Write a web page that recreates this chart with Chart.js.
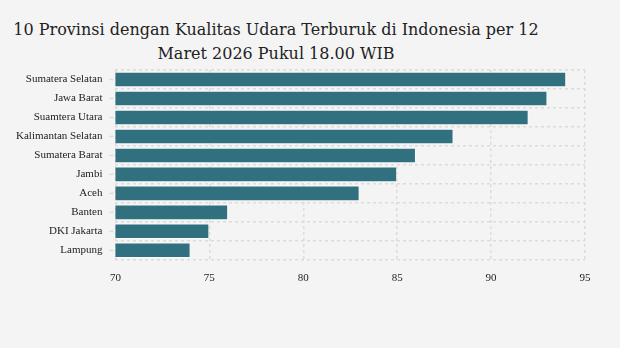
<!DOCTYPE html>
<html>
<head>
<meta charset="utf-8">
<script src="https://cdn.jsdelivr.net/npm/chart.js@4/dist/chart.umd.min.js"></script>
<style>
  html, body { margin: 0; padding: 0; background: #f4f4f4; }
  #wrap { position: relative; width: 620px; height: 348px; }
  #judul {
    position: absolute; left: 0; top: 18px; width: 552px; margin: 0;
    font-family: "DejaVu Serif", serif; font-weight: normal; font-size: 16px;
    line-height: 24px; color: #222; text-align: center;
  }
  canvas { position: absolute; left: 0; top: 0; }
</style>
</head>
<body>
<div id="wrap">
  <h1 id="judul">10 Provinsi dengan Kualitas Udara Terburuk di Indonesia per 12<br>Maret 2026 Pukul 18.00 WIB</h1>
  <canvas id="myChart" width="620" height="348"></canvas>
</div>
<script>
// Data kualitas udara per provinsi
const provinsi = ['Sumatera Selatan', 'Jawa Barat', 'Suamtera Utara', 'Kalimantan Selatan', 'Sumatera Barat',
  'Jambi', 'Aceh', 'Banten', 'DKI Jakarta', 'Lampung'];
const nilai = [94, 93, 92, 88, 86, 85, 83, 76, 75, 74];
const tickX = [70, 75, 80, 85, 90, 95];

const fontLabel = { family: 'Liberation Serif', size: 11 };

// Garis kecil di samping label kategori
const tandaLabel = {
  id: 'tandaLabel',
  afterDraw(chart) {
    const y = chart.scales.y;
    const ctx = chart.ctx;
    ctx.save();
    ctx.strokeStyle = '#dcdcdc';
    ctx.lineWidth = 1.5;
    y.ticks.forEach((t, i) => {
      const py = y.getPixelForTick(i);
      ctx.beginPath();
      ctx.moveTo(y.right - 6, py);
      ctx.lineTo(y.right - 2, py);
      ctx.stroke();
    });
    ctx.restore();
  }
};

const ctx = document.getElementById('myChart').getContext('2d');
const myChart = new Chart(ctx, {
  type: 'bar',
  data: {
    labels: provinsi,
    datasets: [{
      data: nilai,
      backgroundColor: '#30707f',
      borderColor: 'rgba(255,255,255,0.45)',
      borderWidth: 1,
      barPercentage: 0.82,
      categoryPercentage: 1
    }]
  },
  options: {
    indexAxis: 'y',
    responsive: false,
    animation: false,
    layout: { padding: { top: 70, right: 35, bottom: 51, left: 3 } },
    plugins: { legend: { display: false }, tooltip: { enabled: false } },
    scales: {
      x: {
        min: 70, max: 95,
        afterBuildTicks: (s) => { s.ticks = tickX.map(v => ({ value: v })); },
        grid: { color: '#dcdcdc', lineWidth: 1.5, drawTicks: false },
        border: { display: false, dash: [3, 3] },
        ticks: { color: '#222', font: fontLabel, padding: 12 }
      },
      y: {
        grid: { offset: true, color: '#dcdcdc', lineWidth: 1.5, drawTicks: false },
        border: { display: false, dash: [3, 3] },
        ticks: { color: '#222', font: fontLabel, padding: 13 }
      }
    }
  },
  plugins: [tandaLabel]
});
</script>
</body>
</html>
